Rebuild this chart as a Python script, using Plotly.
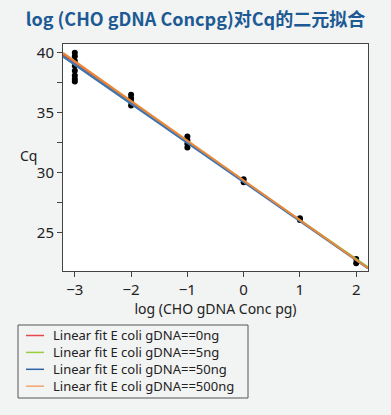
import plotly.graph_objects as go

# ---- data ----
log_conc = [-3, -3, -3, -3, -3, -3, -3, -3,
            -2, -2, -2, -2,
            -1, -1, -1, -1,
            0, 0,
            1, 1,
            2, 2]
cq = [40.0, 39.7, 39.3, 38.9, 38.5, 38.1, 37.8, 37.6,
      36.5, 36.2, 35.9, 35.6,
      33.0, 32.7, 32.4, 32.1,
      29.45, 29.2,
      26.2, 26.05,
      22.8, 22.45]

series_names = ["Linear fit E coli gDNA==0ng", "Linear fit E coli gDNA==5ng",
                "Linear fit E coli gDNA==50ng", "Linear fit E coli gDNA==500ng"]
fit_intercepts = [29.30, 29.28, 29.22, 29.35]
fit_slopes = [-3.28, -3.24, -3.26, -3.31]
line_colors = ["#e0474c", "#8cc63f", "#3e74b8", "#e8893a"]
legend_colors = ["#e8474d", "#9acd3c", "#2f64a8", "#f4a56e"]

x_range = [-3.21, 2.21]
y_range = [21.8, 40.72]
x_ticks = [-3, -2, -1, 0, 1, 2]
y_ticks = [25, 30, 35, 40]

W, H = 391, 415
ML, MR, MT, MB = 63, 23, 44, 144
PW, PH = W - ML - MR, H - MT - MB


def px(xp):
    return (xp - ML) / PW


def py(yp):
    return (H - MB - yp) / PH


fig = go.Figure()
fig.add_trace(go.Scatter(x=log_conc, y=cq, mode="markers",
                         marker=dict(color="black", size=6),
                         showlegend=False, hoverinfo="skip"))
for name, b, m, c in zip(series_names, fit_intercepts, fit_slopes, line_colors):
    fig.add_trace(go.Scatter(x=x_range, y=[b + m * xv for xv in x_range],
                             mode="lines", name=name, showlegend=False,
                             line=dict(color=c, width=2)))

axis_common = dict(showline=True, linecolor="#444", linewidth=1, mirror=True,
                   ticks="outside", tickcolor="#444", ticklen=5,
                   showgrid=False, zeroline=False, automargin=False,
                   tickfont=dict(size=15, color="#222"))
fig.update_xaxes(range=x_range, tickvals=x_ticks, **axis_common,
                 title=dict(text="log (CHO gDNA Conc pg)", font=dict(size=14, color="#222"),
                            standoff=0))
fig.update_yaxes(range=y_range, tickvals=y_ticks, **axis_common,
                 minor=dict(ticks="outside", tickvals=[27.5, 32.5, 37.5], ticklen=5,
                            tickcolor="#444"))

fig.add_annotation(text="Cq", xref="paper", yref="paper", x=px(28), y=py(155),
                   showarrow=False, font=dict(size=14, color="#222"),
                   xanchor="center", yanchor="middle")

# manual legend
box_l, box_r, box_t, box_b = 18, 248, 325, 398
item_y0, item_dy = 335.5, 16.9
fig.add_shape(type="rect", xref="paper", yref="paper",
              x0=px(box_l), x1=px(box_r), y0=py(box_b), y1=py(box_t),
              line=dict(color="#555", width=1), fillcolor="rgba(0,0,0,0)")
for i, c in enumerate(legend_colors):
    yc = item_y0 + i * item_dy
    fig.add_shape(type="line", xref="paper", yref="paper",
                  x0=px(26), x1=px(44), y0=py(yc), y1=py(yc),
                  line=dict(color=c, width=1.5))
fig.add_annotation(text="<br>".join(series_names), xref="paper", yref="paper",
                   x=px(51), y=py(item_y0 + 1.5 * item_dy),
                   xanchor="left", yanchor="middle", align="left", showarrow=False,
                   font=dict(size=13, color="#222"))

fig.update_layout(
    width=W, height=H,
    margin=dict(l=ML, r=MR, t=MT, b=MB, autoexpand=False),
    paper_bgcolor="#f2f3f3", plot_bgcolor="white",
    font=dict(family="Noto Sans", color="#222"),
    title=dict(text="<b>log (CHO gDNA Concpg)对Cq的二元拟合</b>", x=0.5, xref="container",
               y=1 - 20 / H, yref="container", yanchor="middle", automargin=False,
               font=dict(family="Noto Sans CJK SC", size=18, color="#1d5a93")),
    showlegend=False,
)

fig.write_html("out.html", config={"displayModeBar": False},
               post_script="document.body.style.margin='0px';document.body.style.background='#f2f3f3';")
